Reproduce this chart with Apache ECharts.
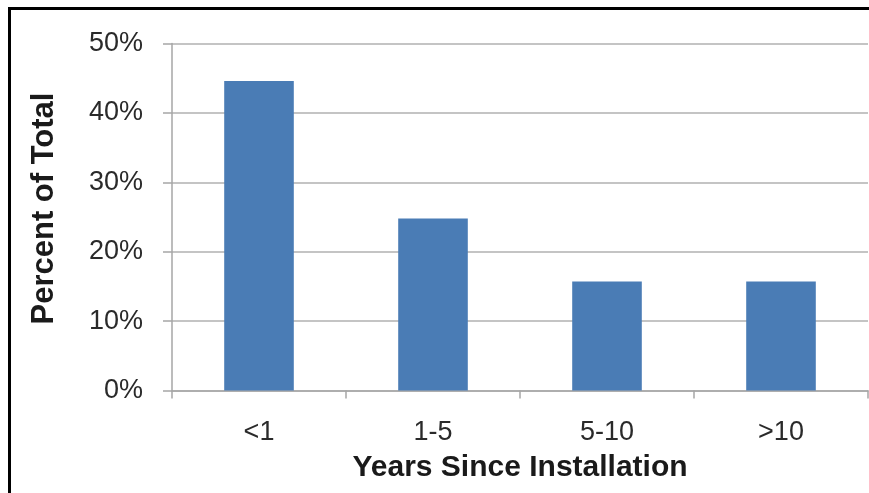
<!DOCTYPE html>
<html>
<head>
<meta charset="utf-8">
<script src="https://cdn.jsdelivr.net/npm/echarts@6/dist/echarts.min.js"></script>
<style>
html,body{margin:0;padding:0;background:#fff;}
#chart{width:869px;height:493px;}
</style>
</head>
<body>
<div id="chart"></div>
<script>
const categories = ['<1', '1-5', '5-10', '>10'];
const percentValues = [44.6, 24.8, 15.7, 15.7];
const yTicks = [0, 10, 20, 30, 40, 50];

const chart = echarts.init(document.getElementById('chart'), null, {renderer: 'canvas'});
const font = '"Liberation Sans", Arial, sans-serif';
chart.setOption({
  animation: false,
  backgroundColor: '#ffffff',
  graphic: [{
    type: 'polyline',
    shape: {points: [[9.5, 493], [9.5, 8.5], [869, 8.5]]},
    style: {stroke: '#000', lineWidth: 3, fill: null},
    z: 100
  }],
  grid: {left: 172, right: 1, top: 43.5, bottom: 102.5, containLabel: false},
  xAxis: {
    type: 'category',
    data: categories,
    name: 'Years Since Installation',
    nameLocation: 'middle',
    nameGap: 62,
    nameTextStyle: {fontFamily: font, fontSize: 30, fontWeight: 'bold', color: '#1a1a1a'},
    axisLine: {show: true, lineStyle: {color: '#a6a6a6', width: 1.5}},
    axisTick: {show: true, length: 8, lineStyle: {color: '#a6a6a6', width: 1.5}},
    axisLabel: {fontFamily: font, fontSize: 27, color: '#2a2a2a', margin: 29}
  },
  yAxis: {
    type: 'value',
    min: yTicks[0],
    max: yTicks[yTicks.length - 1],
    interval: 10,
    name: 'Percent of Total',
    nameLocation: 'middle',
    nameGap: 112,
    nameRotate: 90,
    nameTextStyle: {fontFamily: font, fontSize: 31, fontWeight: 'bold', color: '#1a1a1a', padding: [0, 0, 0, 17]},
    axisLine: {show: true, lineStyle: {color: '#a6a6a6', width: 1.5}},
    axisTick: {show: true, length: 9, lineStyle: {color: '#a6a6a6', width: 1.5}},
    splitLine: {show: true, lineStyle: {color: '#c4c4c4', width: 2}},
    axisLabel: {fontFamily: font, fontSize: 27, color: '#2a2a2a', margin: 29, formatter: '{value}%'}
  },
  series: [{
    type: 'bar',
    data: percentValues,
    barWidth: '40%',
    itemStyle: {color: '#4a7cb5'}
  }]
});
</script>
</body>
</html>
